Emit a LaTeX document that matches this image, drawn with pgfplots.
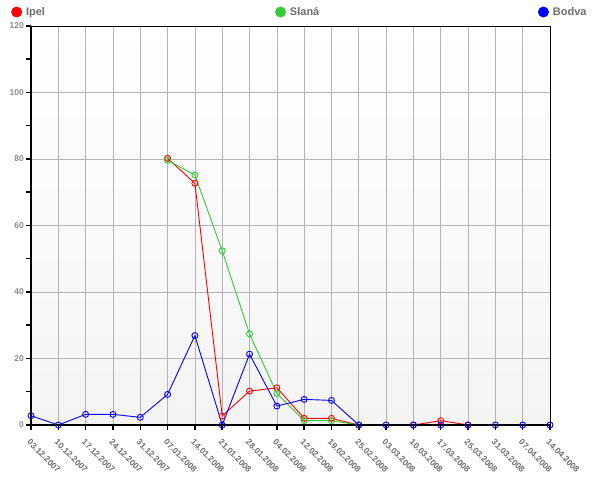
\documentclass[border=0pt]{standalone}
\usepackage{fontspec}
\setmainfont{Liberation Sans}
\usepackage{pgfplots}
\pgfplotsset{compat=1.18}
\definecolor{cred}{RGB}{255,0,0}
\definecolor{cgreen}{RGB}{51,204,51}
\definecolor{cblue}{RGB}{0,0,255}
\definecolor{lblgray}{RGB}{110,110,110}
\definecolor{ylblgray}{RGB}{140,140,140}
\definecolor{gridgray}{RGB}{180,180,180}
\definecolor{bggray}{RGB}{244,244,244}
\begin{document}
\begin{tikzpicture}
\useasboundingbox (-31pt,-56pt) rectangle (569pt,425pt);
\begin{axis}[
  scale only axis,
  width=519pt, height=399pt,
  xmin=0, xmax=19, ymin=0, ymax=120,
  axis background/.style={top color=white, middle color=white, bottom color=bggray},
  axis line style={black, line width=0.8pt},
  xtick={0,...,19},
  xticklabels={03.12.2007,10.12.2007,17.12.2007,24.12.2007,31.12.2007,07.01.2008,14.01.2008,21.01.2008,28.01.2008,04.02.2008,12.02.2008,19.02.2008,25.02.2008,03.03.2008,10.03.2008,17.03.2008,25.03.2008,31.03.2008,07.04.2008,14.04.2008},
  ytick={0,20,...,120},
  minor ytick={10,30,...,110},
  tick align=outside,
  major tick length=5pt, minor tick length=5pt,
  tick style={black, line width=1.5pt},
  xtick pos=bottom, ytick pos=left,
  xmajorgrids, ymajorgrids,
  major grid style={gridgray, line width=0.6pt},
  /pgf/number format/assume math mode=true,
  xticklabel style={font=\fontsize{8.5}{9}\selectfont\bfseries, text=lblgray, rotate=-45, anchor=north west, inner sep=1pt, yshift=-5pt, xshift=5pt},
  yticklabel style={font=\fontsize{8.5}{9}\selectfont\bfseries, text=ylblgray, inner sep=2pt},
  unbounded coords=jump,
  clip=false,
  legend columns=3,
  legend style={at={(axis description cs:0,1)}, anchor=south west, xshift=-20pt, yshift=7pt,
    draw=none, fill=none, inner sep=0pt, font=\fontsize{11}{12}\selectfont\bfseries, text=lblgray,
    /tikz/every even column/.append style={column sep=0pt}},
  every axis plot/.append style={line width=0.9pt, mark=o, mark size=3pt, mark options={fill=white, solid, line width=0.9pt}},
]
\addplot[cred, legend image code/.code={\fill[cred] (0.2em,0) circle (5pt);}] coordinates {
 (5,80.2) (6,72.7) (7,2.7) (8,10.2) (9,11.2) (10,2.0) (11,2.0) (12,0) (13,nan) (14,0) (15,1.3) (16,0)};
\addlegendentry{\hspace{2pt}\makebox[247pt][l]{Ipel}}
\addplot[cgreen, legend image code/.code={\fill[cgreen] (0.2em,0) circle (5pt);}] coordinates {
 (5,79.6) (6,75.2) (7,52.4) (8,27.4) (9,9.5) (10,1.3) (11,1.3) (12,0)};
\addlegendentry{\hspace{2pt}\makebox[246pt][l]{Slaná}}
\addplot[cblue, legend image code/.code={\fill[cblue] (0.2em,0) circle (5pt);}] coordinates {
 (0,2.8) (1,0) (2,3.2) (3,3.2) (4,2.3) (5,9.2) (6,26.9) (7,0) (8,21.3) (9,5.7) (10,7.7) (11,7.4) (12,0) (13,0) (14,0) (15,0) (16,0) (17,0) (18,0) (19,0)};
\addlegendentry{\hspace{2pt}Bodva}
\draw[black, line width=2pt] (rel axis cs:0,1) -- (rel axis cs:0,0) -- (rel axis cs:1,0);
\end{axis}
\end{tikzpicture}
\end{document}
